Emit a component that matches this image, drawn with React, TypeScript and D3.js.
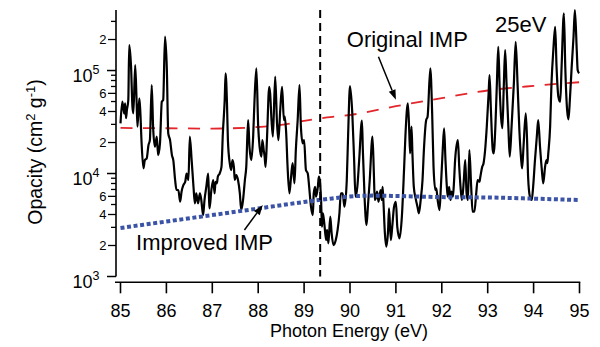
import * as d3 from "d3";

// black trace: opacity at 25 eV
const energy = [
  85.0, 85.04, 85.08, 85.1, 85.12, 85.14, 85.17, 85.19, 85.23, 85.26, 85.28, 85.32, 85.35, 85.37, 85.41, 85.43, 85.46, 85.5, 85.53, 85.57,
  85.61, 85.64, 85.68, 85.71, 85.75, 85.79, 85.82, 85.86, 85.9, 85.93, 85.97, 86.01, 86.04, 86.08, 86.12, 86.15, 86.19, 86.22, 86.26, 86.3,
  86.33, 86.37, 86.41, 86.44, 86.48, 86.51, 86.55, 86.59, 86.62, 86.65, 86.69, 86.73, 86.76, 86.8, 86.83, 86.87, 86.91, 86.93, 86.94, 86.98,
  87.02, 87.05, 87.07, 87.1, 87.12, 87.16, 87.2, 87.23, 87.27, 87.29, 87.32, 87.34, 87.38, 87.41, 87.44, 87.47, 87.49, 87.52, 87.56, 87.6,
  87.63, 87.67, 87.71, 87.74, 87.78, 87.81, 87.85, 87.89, 87.92, 87.96, 88.0, 88.03, 88.07, 88.09, 88.12, 88.14, 88.16, 88.19, 88.24, 88.26,
  88.29, 88.32, 88.37, 88.41, 88.44, 88.48, 88.52, 88.56, 88.58, 88.61, 88.64, 88.68, 88.71, 88.75, 88.79, 88.82, 88.86, 88.9, 88.93, 88.97,
  89.0, 89.04, 89.08, 89.11, 89.15, 89.19, 89.21, 89.24, 89.26, 89.3, 89.32, 89.34, 89.37, 89.39, 89.41, 89.44, 89.48, 89.5, 89.53, 89.57,
  89.6, 89.64, 89.69, 89.73, 89.77, 89.8, 89.84, 89.88, 89.93, 89.96, 90.0, 90.05, 90.09, 90.12, 90.16, 90.2, 90.26, 90.28, 90.32, 90.36,
  90.39, 90.43, 90.49, 90.52, 90.54, 90.57, 90.59, 90.62, 90.65, 90.67, 90.69, 90.71, 90.73, 90.76, 90.79, 90.83, 90.85, 90.89, 90.92, 90.96,
  91.0, 91.03, 91.08, 91.13, 91.18, 91.21, 91.26, 91.29, 91.31, 91.34, 91.36, 91.39, 91.43, 91.47, 91.5, 91.54, 91.58, 91.61, 91.66, 91.69,
  91.75, 91.79, 91.82, 91.86, 91.88, 91.91, 91.95, 91.98, 92.02, 92.05, 92.08, 92.11, 92.13, 92.16, 92.19, 92.21, 92.24, 92.26, 92.29, 92.35,
  92.38, 92.42, 92.44, 92.48, 92.51, 92.54, 92.57, 92.6, 92.64, 92.67, 92.71, 92.75, 92.78, 92.82, 92.84, 92.88, 92.91, 92.95, 92.98, 93.02,
  93.04, 93.07, 93.11, 93.13, 93.17, 93.2, 93.23, 93.26, 93.29, 93.32, 93.35, 93.38, 93.41, 93.45, 93.48, 93.52, 93.57, 93.61, 93.65, 93.69,
  93.73, 93.75, 93.78, 93.83, 93.86, 93.88, 93.92, 93.96, 93.99, 94.03, 94.07, 94.1, 94.14, 94.18, 94.21, 94.25, 94.28, 94.3, 94.32, 94.36,
  94.39, 94.43, 94.47, 94.5, 94.54, 94.58, 94.61, 94.66, 94.69, 94.73, 94.76, 94.79, 94.83, 94.87, 94.9, 94.94, 94.96, 94.99,
];
const opacity = [
  3.07e4, 4.98e4, 3.84e4, 4.8e4, 3.44e4, 4.14e4, 5.17e4, 1.77e5, 1.09e5, 4.45e4, 3.84e4, 1.13e5, 5.17e4, 2.85e4, 5.37e4, 4.14e4, 1.96e4, 1.12e4, 1.35e4, 1.4e4,
  1.89e4, 2.11e4, 7.23e4, 2.85e4, 1.82e4, 2.28e4, 1.51e4, 1.96e4, 4.98e4, 5.17e4, 2.13e5, 1.01e5, 2.46e4, 2.11e4, 1.51e4, 1.35e4, 8.65e3, 6.92e3, 6.92e3, 5.32e3,
  6.66e3, 7.73e3, 8.32e3, 1.0e4, 8.65e3, 2.28e4, 1.35e4, 7.44e3, 5.14e3, 6.42e3, 5.14e3, 6.42e3, 5.53e3, 3.95e3, 5.53e3, 7.44e3, 1.0e4, 5.53e3, 4.59e3, 6.92e3,
  8.65e3, 6.42e3, 8.32e3, 8.03e3, 9.31e3, 1.0e4, 1.16e4, 2.46e4, 5.17e4, 9.39e4, 4.8e4, 2.11e4, 1.26e4, 1.08e4, 1.35e4, 1.16e4, 8.65e3, 9.67e3, 8.65e3, 6.42e3,
  4.42e3, 5.53e3, 8.65e3, 1.16e4, 3.31e4, 1.82e4, 1.35e4, 2.28e4, 5.17e4, 1.05e5, 2.85e4, 1.82e4, 1.46e4, 2.11e4, 1.69e4, 1.46e4, 1.16e4, 2.11e4, 6.96e4, 6.0e4,
  3.31e4, 2.28e4, 8.71e4, 3.07e4, 2.11e4, 4.14e4, 6.96e4, 3.31e4, 3.56e4, 2.46e4, 1.16e4, 6.42e3, 8.65e3, 1.26e4, 8.03e3, 1.69e4, 3.31e4, 7.23e4, 2.85e4, 1.96e4,
  2.11e4, 1.08e4, 1.0e4, 7.44e3, 4.76e3, 3.95e3, 6.42e3, 7.44e3, 5.95e3, 7.44e3, 9.31e3, 8.65e3, 5.53e3, 3.04e3, 4.11e3, 3.28e3, 2.26e3, 2.83e3, 2.1e3, 3.81e3,
  2.63e3, 2.02e3, 2.26e3, 2.83e3, 4.11e3, 6.42e3, 6.42e3, 4.76e3, 8.65e3, 2.46e4, 7.07e4, 3.84e4, 1.35e4, 5.95e3, 7.44e3, 1.35e4, 3.26e4, 1.69e4, 5.53e3, 3.16e3,
  4.76e3, 8.65e3, 2.28e4, 1.0e4, 5.53e3, 5.95e3, 6.66e3, 5.32e3, 6.42e3, 6.92e3, 5.53e3, 7.44e3, 5.14e3, 2.63e3, 1.95e3, 2.83e3, 4.59e3, 2.26e3, 3.04e3, 4.76e3,
  5.32e3, 3.04e3, 2.35e3, 3.81e3, 1.16e4, 2.46e4, 4.8e4, 2.64e4, 1.57e4, 2.85e4, 1.57e4, 7.44e3, 5.74e3, 4.76e3, 4.11e3, 5.53e3, 8.65e3, 1.69e4, 3.31e4, 3.56e4,
  1.05e5, 3.84e4, 1.16e4, 6.92e3, 7.18e3, 5.53e3, 4.42e3, 7.44e3, 1.69e4, 2.75e4, 1.35e4, 7.44e3, 5.95e3, 7.44e3, 5.53e3, 6.66e3, 5.95e3, 7.44e3, 1.35e4, 2.11e4,
  1.16e4, 6.42e3, 5.53e3, 8.65e3, 1.35e4, 6.42e3, 5.53e3, 1.69e4, 7.44e3, 4.26e3, 4.26e3, 6.42e3, 8.65e3, 8.32e3, 9.31e3, 1.16e4, 1.26e4, 1.82e4, 2.85e4, 6.0e4,
  9.04e4, 4.14e4, 1.69e4, 1.57e4, 3.07e4, 7.51e4, 1.7e5, 6.96e4, 3.56e4, 2.75e4, 6.96e4, 1.58e5, 7.51e4, 2.85e4, 1.46e4, 2.85e4, 7.51e4, 1.9e5, 7.51e4, 2.64e4,
  1.35e4, 1.12e4, 1.82e4, 3.84e4, 1.96e4, 9.31e3, 5.95e3, 5.53e3, 7.44e3, 1.35e4, 2.28e4, 3.31e4, 1.82e4, 1.08e4, 8.03e3, 1.16e4, 1.35e4, 1.26e4, 1.57e4, 2.85e4,
  7.51e4, 1.58e5, 2.66e5, 1.09e5, 5.57e4, 4.98e4, 1.09e5, 3.59e5, 1.09e5, 4.14e4, 3.36e4, 5.17e4, 1.09e5, 2.13e5, 3.86e5, 1.58e5, 1.01e5, 9.39e4,
];

// red dashed: Original IMP
const originalE = [85, 86, 87, 88, 88.5, 89, 89.5, 90, 91, 92, 93, 94, 95];
const originalOpacity = [2.77e4, 2.75e4, 2.73e4, 2.83e4, 2.96e4, 3.24e4, 3.5e4, 3.7e4, 4.5e4, 5.4e4, 6.4e4, 7.1e4, 7.7e4];

// blue dotted: Improved IMP
const improvedE = [85, 86, 87, 88, 89, 89.5, 90, 90.5, 91, 92, 93, 94, 95];
const improvedOpacity = [2.96e3, 3.42e3, 3.95e3, 4.57e3, 5.29e3, 5.65e3, 5.98e3, 6.1e3, 6.05e3, 5.9e3, 5.85e3, 5.7e3, 5.53e3];

const xTicks = [85, 86, 87, 88, 89, 90, 91, 92, 93, 94, 95];
const decades = [3, 4, 5];
const minorLabels = [2, 4, 6];
const markerE = 89.35;

const W = 600;
const H = 347;
const yTop = 3.87e5;
const font = "'Liberation Sans', Arial, Helvetica, sans-serif";

const x = d3.scaleLinear().domain([85, 95]).range([120.5, 579.5]);
const y = d3.scaleLog().domain([1e3, yTop]).range([276.5, 10]);

const axisX = 116;
const axisY = 282.3;

function arrow(x1: number, y1: number, x2: number, y2: number) {
  const a = Math.atan2(y2 - y1, x2 - x1);
  const L = 10, w = 3.6;
  const bx = x2 - L * Math.cos(a), by = y2 - L * Math.sin(a);
  const px = -Math.sin(a) * w, py = Math.cos(a) * w;
  return (
    <g>
      <line x1={x1} y1={y1} x2={bx} y2={by} stroke="#000" strokeWidth={1.5} />
      <polygon points={`${x2},${y2} ${bx + px},${by + py} ${bx - px},${by - py}`} fill="#000" />
    </g>
  );
}

export default function App() {
  const line = d3.line<number>().x((d, i) => x(energy[i])).y((d) => y(d)).curve(d3.curveMonotoneX);
  const origLine = d3.line<number>().x((d, i) => x(originalE[i])).y((d) => y(d)).curve(d3.curveMonotoneX);
  const impLine = d3.line<number>().x((d, i) => x(improvedE[i])).y((d) => y(d)).curve(d3.curveMonotoneX);

  const minorTicks: { v: number; m: number }[] = [];
  decades.forEach((p) => {
    for (let m = 2; m <= 9; m++) {
      const v = m * Math.pow(10, p);
      if (v <= yTop) minorTicks.push({ v, m });
    }
  });

  return (
    <svg width={W} height={H} style={{ position: "absolute", left: 0, top: 0, background: "#fff" }} fontFamily={font}>
      {/* axes */}
      <line x1={axisX} y1={y(yTop)} x2={axisX} y2={y(1e3)} stroke="#000" strokeWidth={1.6} />
      <line x1={axisX - 1} y1={axisY} x2={x(95) + 0.8} y2={axisY} stroke="#000" strokeWidth={1.6} />
      {xTicks.map((t) => (
        <g key={t}>
          <line x1={x(t)} x2={x(t)} y1={axisY} y2={axisY + 11} stroke="#000" strokeWidth={1.6} />
          <text x={x(t)} y={316.5} fontSize={18} textAnchor="middle">{t}</text>
        </g>
      ))}
      {decades.map((p) => (
        <g key={p}>
          <line x1={axisX - 9} x2={axisX} y1={y(Math.pow(10, p))} y2={y(Math.pow(10, p))} stroke="#000" strokeWidth={1.5} />
          <text x={92.5} y={y(Math.pow(10, p)) + 11} fontSize={18} textAnchor="end">10</text>
          <text x={92.5} y={y(Math.pow(10, p)) + 3} fontSize={12.5}>{p}</text>
        </g>
      ))}
      {minorTicks.map(({ v, m }) => {
        const lab = minorLabels.includes(m);
        return (
          <g key={v}>
            <line x1={axisX - (lab ? 8 : 5)} x2={axisX} y1={y(v)} y2={y(v)} stroke="#000" strokeWidth={1.3} />
            {lab && (
              <text x={106.5} y={y(v) + 4.5} fontSize={13} textAnchor="end">{m}</text>
            )}
          </g>
        );
      })}
      <text x={349} y={336.5} fontSize={18} textAnchor="middle">Photon Energy (eV)</text>
      <text transform="translate(42,152) rotate(-90)" fontSize={19.5} textAnchor="middle">
        Opacity (cm<tspan dy={-7} fontSize={13}>2</tspan><tspan dy={7}> g</tspan><tspan dy={-7} fontSize={13}>-1</tspan><tspan dy={7}>)</tspan>
      </text>

      {/* curves */}
      <path d={origLine(originalOpacity) || ""} fill="none" stroke="#e3262b" strokeWidth={1.8} strokeDasharray="12 10.5" />
      <path d={line(opacity) || ""} fill="none" stroke="#000" strokeWidth={2.2} strokeLinejoin="round" />
      <path d={impLine(improvedOpacity) || ""} fill="none" stroke="#3b53a6" strokeWidth={4} strokeDasharray="4 2.6" />
      <line x1={x(markerE)} x2={x(markerE)} y1={y(yTop)} y2={y(1e3)} stroke="#000" strokeWidth={2} strokeDasharray="8 5" />

      {/* annotations */}
      <text x={x(89.93)} y={y(1.69e5)} fontSize={22}>Original IMP</text>
      {arrow(x(90.62), y(1.36e5), x(91.0), y(5.2e4))}
      <text x={x(85.34)} y={y(1.81e3)} fontSize={22}>Improved IMP</text>
      {arrow(x(87.7), y(2.83e3), x(88.1), y(4.94e3))}
      <text x={x(93.16)} y={y(2.37e5)} fontSize={22}>25eV</text>
    </svg>
  );
}
